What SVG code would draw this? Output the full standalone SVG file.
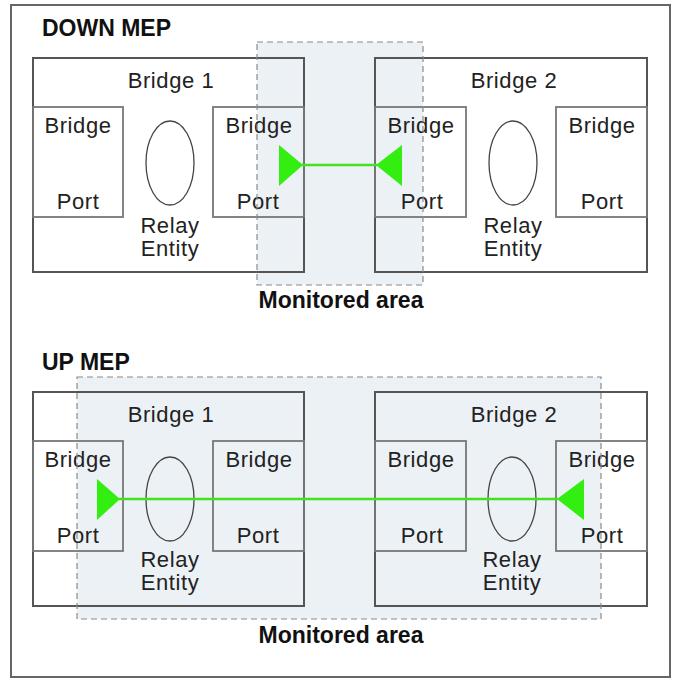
<svg xmlns="http://www.w3.org/2000/svg" width="679" height="679" viewBox="0 0 679 679">
<style>
.t{font-family:"Liberation Sans",Arial,sans-serif;font-size:22px;fill:#222;text-anchor:middle;letter-spacing:0.6px}
.h{font-family:"Liberation Sans",Arial,sans-serif;font-size:23px;font-weight:bold;fill:#111}
.mt{font-family:"Liberation Sans",Arial,sans-serif;font-size:23px;font-weight:bold;fill:#111;text-anchor:middle}
.bridge{fill:none;stroke:#555;stroke-width:2}
.port{fill:none;stroke:#777;stroke-width:1.8}
.relay{fill:none;stroke:#444;stroke-width:1.3}
.area{fill:#e9eef3;fill-opacity:0.85;stroke:none}
.areab{fill:none;stroke:#8a8a8a;stroke-width:1.2;stroke-dasharray:6 4}
.link{stroke:#44e022;stroke-width:2.5;fill:none}
.mep{fill:#33ee11}
</style>
<rect x="0" y="0" width="679" height="679" fill="#fff"/>
<rect x="11" y="5" width="659" height="672" fill="none" stroke="#666" stroke-width="2"/>

<!-- DOWN MEP -->
<text class="h" x="42" y="36">DOWN MEP</text>
<g id="down-area">
<rect class="area" x="257" y="42" width="166" height="243"/>
</g>
<g id="down-bridge1">
<rect class="bridge" x="33" y="58" width="271" height="214"/>
<text class="t" x="171" y="88">Bridge 1</text>
<rect class="port" x="33" y="107" width="90" height="110"/>
<text class="t" x="78" y="133">Bridge</text>
<text class="t" x="78" y="209">Port</text>
<ellipse class="relay" cx="170" cy="163" rx="24" ry="42"/>
<text class="t" x="170" y="233">Relay</text>
<text class="t" x="170" y="256">Entity</text>
<rect class="port" x="213" y="107" width="91" height="110"/>
<text class="t" x="259" y="133">Bridge</text>
<text class="t" x="258" y="209">Port</text>
</g>
<g id="down-bridge2">
<rect class="bridge" x="375" y="58" width="272" height="214"/>
<text class="t" x="514" y="88">Bridge 2</text>
<rect class="port" x="375" y="107" width="91" height="110"/>
<text class="t" x="421" y="133">Bridge</text>
<text class="t" x="422" y="209">Port</text>
<ellipse class="relay" cx="513" cy="163" rx="24" ry="42"/>
<text class="t" x="513" y="233">Relay</text>
<text class="t" x="513" y="256">Entity</text>
<rect class="port" x="556" y="107" width="91" height="110"/>
<text class="t" x="602" y="133">Bridge</text>
<text class="t" x="602" y="209">Port</text>
</g>
<g id="down-area-border">
<rect class="areab" x="257" y="42" width="166" height="243"/>
<text class="mt" x="341" y="308">Monitored area</text>
</g>
<g id="down-connectors">
<line class="link" x1="302" y1="165" x2="377" y2="165"/>
<polygon class="mep" points="279,145 303,165 279,186"/>
<polygon class="mep" points="402,145 376,165 402,186"/>
</g>

<!-- UP MEP -->
<text class="h" x="42" y="370">UP MEP</text>
<g id="up-area">
<rect class="area" x="77" y="377" width="524" height="242"/>
</g>
<g id="up-bridge1">
<rect class="bridge" x="33" y="392" width="271" height="214"/>
<text class="t" x="171" y="422">Bridge 1</text>
<rect class="port" x="33" y="441" width="90" height="110"/>
<text class="t" x="78" y="467">Bridge</text>
<text class="t" x="78" y="543">Port</text>
<ellipse class="relay" cx="170" cy="499" rx="24" ry="42"/>
<text class="t" x="170" y="567">Relay</text>
<text class="t" x="170" y="590">Entity</text>
<rect class="port" x="213" y="441" width="91" height="110"/>
<text class="t" x="259" y="467">Bridge</text>
<text class="t" x="258" y="543">Port</text>
</g>
<g id="up-bridge2">
<rect class="bridge" x="375" y="392" width="272" height="214"/>
<text class="t" x="514" y="422">Bridge 2</text>
<rect class="port" x="375" y="441" width="91" height="110"/>
<text class="t" x="421" y="467">Bridge</text>
<text class="t" x="422" y="543">Port</text>
<ellipse class="relay" cx="512" cy="499" rx="24" ry="42"/>
<text class="t" x="512" y="567">Relay</text>
<text class="t" x="512" y="590">Entity</text>
<rect class="port" x="556" y="441" width="91" height="110"/>
<text class="t" x="602" y="467">Bridge</text>
<text class="t" x="602" y="543">Port</text>
</g>
<g id="up-area-border">
<rect class="areab" x="77" y="377" width="524" height="242"/>
<text class="mt" x="341" y="643">Monitored area</text>
</g>
<g id="up-connectors">
<line class="link" x1="119" y1="499" x2="558" y2="499"/>
<polygon class="mep" points="97,479 120,499 97,520"/>
<polygon class="mep" points="584,479 557,499 584,520"/>
</g>
</svg>
